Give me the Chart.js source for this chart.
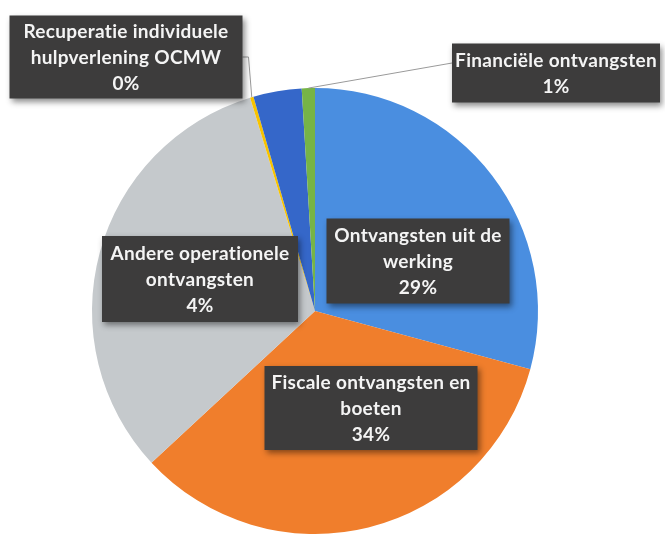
<!DOCTYPE html>
<html>
<head>
<meta charset="utf-8">
<script src="https://cdn.jsdelivr.net/npm/chart.js@4"></script>
<style>
  html, body { margin: 0; padding: 0; background: #fff; }
  #wrap { width: 665px; height: 537px; }
</style>
</head>
<body>
<div id="wrap"><canvas id="ontvangsten" width="665" height="537"></canvas></div>
<script>
// categorieen, kloksgewijs vanaf 12 uur
const categorieen = [
  'Ontvangsten uit de werking',
  'Fiscale ontvangsten en boeten',
  'Werkingssubsidies',
  'Recuperatie individuele hulpverlening OCMW',
  'Andere operationele ontvangsten',
  'Financiële ontvangsten'
];
const aandelen = [29.2, 33.9, 32.2, 0.25, 3.5, 0.95];
const kleuren = ['#4a8ee0', '#f07e2c', '#c5c9cc', '#f7c300', '#3567c9', '#76b447'];
// tekst in de labels (regels), null = geen label
const labelRegels = [
  ['Ontvangsten uit de', 'werking'],
  ['Fiscale ontvangsten en', 'boeten'],
  null,
  ['Recuperatie individuele', 'hulpverlening OCMW'],
  ['Andere operationele', 'ontvangsten'],
  ['Financiële ontvangsten']
];

const totaal = aandelen.reduce((a, b) => a + b, 0);
const procenten = aandelen.map(v => Math.round(v / totaal * 100) + '%');

// plaats van de labelvakken (middelpunt, breedte, hoogte) + leader lijn
const labelVakken = {
  0: { x: 418, y: 261, w: 183, h: 85 },
  1: { x: 371, y: 408, w: 213, h: 84 },
  3: { x: 126, y: 57, w: 233, h: 83, lijn: 'rechts' },
  4: { x: 200, y: 279, w: 196, h: 86 },
  5: { x: 556, y: 73, w: 208, h: 59, lijn: 'links' }
};

const labelPlugin = {
  id: 'labelVakken',
  afterDatasetsDraw(chart) {
    const ctx = chart.ctx;
    const arcs = chart.getDatasetMeta(0).data;
    ctx.save();
    // leader lijnen eerst
    Object.keys(labelVakken).forEach(k => {
      const vak = labelVakken[k];
      if (!vak.lijn) return;
      const arc = arcs[k];
      const p = arc.getProps(['x', 'y', 'startAngle', 'endAngle', 'outerRadius'], true);
      const mid = (p.startAngle + p.endAngle) / 2;
      const ex = p.x + Math.cos(mid) * p.outerRadius;
      const ey = p.y + Math.sin(mid) * p.outerRadius;
      const sx = vak.lijn === 'rechts' ? vak.x + vak.w / 2 : vak.x - vak.w / 2;
      const sy = vak.lijn === 'rechts' ? vak.y : vak.y - 10;
      ctx.strokeStyle = '#9a9a9a';
      ctx.lineWidth = 1;
      ctx.beginPath();
      ctx.moveTo(sx, sy);
      if (vak.lijn === 'rechts') ctx.lineTo(sx + 6, sy);
      ctx.lineTo(ex, ey);
      ctx.stroke();
    });
    Object.keys(labelVakken).forEach(k => {
      const vak = labelVakken[k];
      const regels = labelRegels[k].concat([procenten[k]]);
      ctx.save();
      ctx.shadowColor = 'rgba(0,0,0,0.45)';
      ctx.shadowBlur = 6;
      ctx.shadowOffsetX = 2;
      ctx.shadowOffsetY = 3;
      ctx.fillStyle = '#3d3c3c';
      ctx.fillRect(vak.x - vak.w / 2, vak.y - vak.h / 2, vak.w, vak.h);
      ctx.restore();
      ctx.fillStyle = '#f4f4f4';
      ctx.font = 'bold 19px Lato';
      ctx.letterSpacing = '0.3px';
      ctx.textAlign = 'center';
      ctx.textBaseline = 'middle';
      const lh = 26;
      const y0 = vak.y + 1 - (regels.length - 1) * lh / 2;
      regels.forEach((r, i) => ctx.fillText(r, vak.x, y0 + i * lh));
    });
    ctx.restore();
  }
};

new Chart(document.getElementById('ontvangsten'), {
  type: 'pie',
  data: {
    labels: categorieen,
    datasets: [{
      data: aandelen,
      backgroundColor: kleuren,
      borderWidth: 0
    }]
  },
  options: {
    responsive: false,
    animation: false,
    layout: { padding: { left: 92, right: 127, top: 88, bottom: 3 } },
    plugins: {
      legend: { display: false },
      tooltip: { enabled: false }
    }
  },
  plugins: [labelPlugin]
});
</script>
</body>
</html>
